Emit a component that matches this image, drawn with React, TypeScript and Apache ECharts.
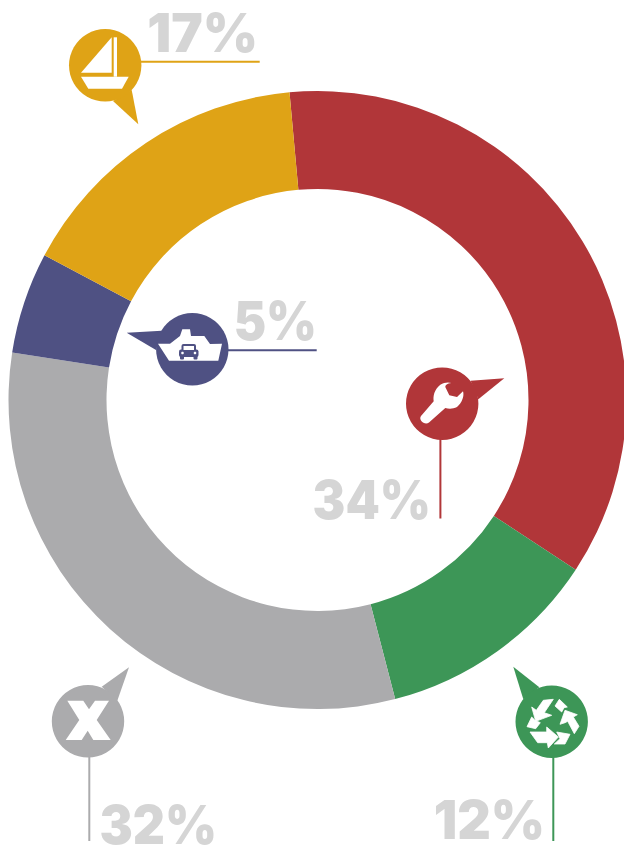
import React, { useEffect, useRef } from "react";
import * as echarts from "echarts";

const categories = ["Repair", "Recycling", "Other", "Ferry", "Boating"];
const shareValues = [35.7, 11.7, 31.5, 5.3, 15.8];
const shareLabels = ["34%", "12%", "32%", "5%", "17%"];
const sliceColors = ["#B13639", "#3D9657", "#ABABAD", "#4F5183", "#DFA316"];

function crop(pts: number[][], ox: number, oy: number) {
  return "M" + pts.map(([x, y]) => `${(ox + x / 3).toFixed(1)} ${(oy + y / 3).toFixed(1)}`).join(" L") + " Z";
}
const WRENCH = "M451.3 383 C447 383.5 445.5 385 445.3 387 L449.3 395.3 L457 397 L463 391.3 C464.5 396 462 403 457 407 C453 409 449 409 445.3 408 L429 422.5 C425 426 418 420 421 416 L433.7 401.3 C433 396 434 390 440.3 384.7 C444 382.5 448 382 451.3 383 Z";
const X_MARK = crop([[82, 122], [130, 122], [147, 148], [165, 122], [207, 122], [170, 180], [212, 240], [160, 240], [143, 212], [125, 240], [77, 240], [118, 180]], 40, 660);
const RECYCLE = [
  [[85, 25], [115, 22], [88, 62], [110, 70], [62, 88], [50, 45], [64, 55]],
  [[120, 42], [133, 22], [157, 45], [147, 47], [140, 60]],
  [[150, 55], [187, 68], [175, 75], [192, 103], [178, 125], [158, 88], [150, 92], [135, 97]],
  [[50, 75], [60, 85], [76, 92], [62, 110], [36, 104]],
  [[45, 120], [95, 120], [95, 105], [130, 135], [100, 168], [97, 152], [68, 152]],
  [[125, 120], [165, 127], [150, 156], [118, 156], [135, 140]],
].map((p) => crop(p, 515, 692)).join(" ");
echarts.graphic.registerShape("wrenchIcon", echarts.graphic.extendPath(WRENCH, {}));
echarts.graphic.registerShape("xIcon", echarts.graphic.extendPath(X_MARK, {}));
echarts.graphic.registerShape("recycleIcon", echarts.graphic.extendPath(RECYCLE, {}));

const FONT = "Inter, sans-serif";

function pct(text: string, right: number, mid: number, scaleX: number) {
  return {
    type: "text", x: right, y: mid, scaleX,
    style: { text, fill: "#D5D5D5", font: `900 53px ${FONT}`, textAlign: "right", textBaseline: "middle", textVerticalAlign: "middle" },
  };
}
function pin(color: string, cx: number, cy: number, tail: number[][], line: number[]) {
  return [
    { type: "line", shape: { x1: line[0], y1: line[1], x2: line[2], y2: line[3] }, style: { stroke: color, lineWidth: 2 } },
    { type: "polygon", shape: { points: tail }, style: { fill: color } },
    { type: "circle", shape: { cx, cy, r: 36.2 }, style: { fill: color } },
  ];
}
const white = { fill: "#FFFFFF" };

function buildGraphics() {
  const purple = { fill: sliceColors[3] };
  return [
    // gold
    ...pin(sliceColors[4], 105.2, 65.3, [[113, 101], [138.3, 124.3], [131.7, 90]], [140, 61.7, 259.7, 61.7]),
    { type: "polygon", shape: { points: [[81, 72.7], [111.7, 37.3], [111.7, 72.7]] }, style: white },
    { type: "polygon", shape: { points: [[113.7, 37.3], [117, 37.3], [117, 76.7], [113.7, 76.7]] }, style: white },
    { type: "polygon", shape: { points: [[81, 76.7], [128.7, 76.7], [122, 88.7], [88.3, 88.7]] }, style: white },
    pct(shareLabels[4], 258, 33, 1.0),
    // purple
    ...pin(sliceColors[3], 192.3, 349.3, [[161.7, 330.7], [126.7, 332.7], [156, 350]], [228, 350.3, 316.7, 350.3]),
    { type: "polygon", shape: { points: [[158, 343.7], [170, 343.7], [180, 336], [182.3, 329.3], [190, 329.3], [191, 336], [204.3, 336], [210, 344], [222, 343.7], [218.3, 360.7], [169, 360.7]] }, style: white },
    { type: "rect", shape: { x: 179, y: 349.5, width: 19.5, height: 7.5, r: 2 }, style: purple },
    { type: "rect", shape: { x: 181.5, y: 344, width: 14.5, height: 8, r: 2 }, style: purple },
    { type: "rect", shape: { x: 183.5, y: 346, width: 10.5, height: 4 }, style: white },
    { type: "rect", shape: { x: 180, y: 355, width: 4, height: 4.5, r: 1 }, style: purple },
    { type: "rect", shape: { x: 193.5, y: 355, width: 4, height: 4.5, r: 1 }, style: purple },
    { type: "circle", shape: { cx: 182.5, cy: 353, r: 1.3 }, style: white },
    { type: "circle", shape: { cx: 195, cy: 353, r: 1.3 }, style: white },
    pct(shareLabels[3], 317, 321, 0.92),
    // red
    ...pin(sliceColors[0], 442.2, 403.7, [[470.7, 380.7], [504.3, 378.3], [478.3, 399.3]], [440.4, 436, 440.4, 518.5]),
    { type: "wrenchIcon", style: white },
    pct(shareLabels[0], 431, 500, 0.925),
    // green
    ...pin(sliceColors[1], 551.7, 721.7, [[539.3, 687.3], [513.3, 666.7], [523.3, 699.3]], [553.3, 757, 553.3, 841]),
    { type: "recycleIcon", style: { fill: "#FFFFFF", stroke: "#FFFFFF", lineWidth: 0.8 } },
    pct(shareLabels[1], 545, 820, 0.98),
    // gray
    ...pin(sliceColors[2], 88, 721.3, [[101.7, 686.7], [129, 667.3], [117.3, 700.7]], [89.3, 756, 89.3, 841]),
    { type: "xIcon", style: white },
    pct(shareLabels[2], 217, 824, 0.94),
  ];
}

export default function App() {
  const ref = useRef<HTMLDivElement>(null);
  useEffect(() => {
    const chart = echarts.init(ref.current!, undefined, { renderer: "svg" });
    chart.setOption({
      animation: false,
      graphic: { elements: buildGraphics() },
      series: [{
        type: "pie",
        center: [317.5, 400],
        radius: [211, 309],
        startAngle: 95.2,
        clockwise: true,
        silent: true,
        label: { show: false },
        labelLine: { show: false },
        itemStyle: { borderWidth: 0 },
        data: categories.map((name, i) => ({ name, value: shareValues[i], itemStyle: { color: sliceColors[i] } })),
      }],
    });
    return () => chart.dispose();
  }, []);
  return <div ref={ref} style={{ position: "absolute", left: 0, top: 0, width: 624, height: 845, overflow: "hidden" }} />;
}
